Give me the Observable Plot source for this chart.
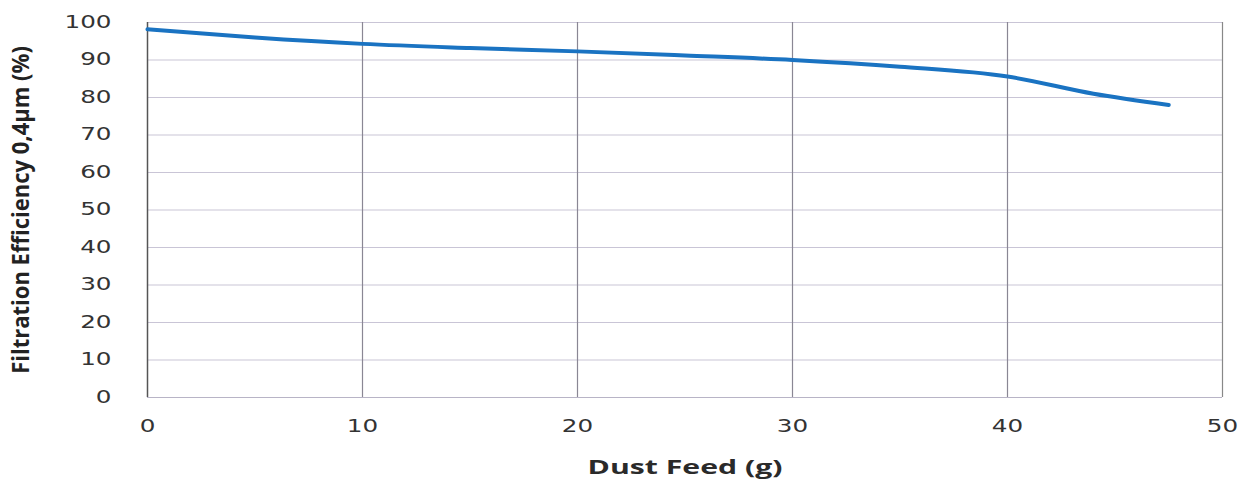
<!DOCTYPE html>
<html>
<head>
<meta charset="utf-8">
<script src="https://cdn.jsdelivr.net/npm/d3@7"></script>
<script src="https://cdn.jsdelivr.net/npm/@observablehq/plot@0.6"></script>
<style>
  html, body { margin: 0; padding: 0; background: #fff; }
  #chart svg { display: block; }
  g[aria-label="y-axis tick label"] text, g[aria-label="x-axis tick label"] text {
    font-family: "DejaVu Sans", sans-serif; font-size: 17px; fill: #333;
  }
  g[aria-label="y-axis label"] text {
    font-family: "Open Sans", sans-serif; font-weight: bold; font-size: 24px; fill: #222;
  }
  g[aria-label="x-axis label"] text {
    font-family: "Open Sans", sans-serif; font-weight: bold; font-size: 20px; fill: #2a2a2a;
  }
</style>
</head>
<body>
<div id="chart"></div>
<script>
const dustFeed = [0, 5, 10, 15, 20, 25, 30, 35, 40, 44, 47.5];
const efficiency = [98.2, 96.0, 94.3, 93.2, 92.3, 91.2, 90.0, 88.2, 85.6, 81.0, 78.0];
const xTicks = [0, 10, 20, 30, 40, 50];
const yTicks = [0, 10, 20, 30, 40, 50, 60, 70, 80, 90, 100];

const data = dustFeed.map((x, i) => ({x, y: efficiency[i]}));

const chart = Plot.plot({
  width: 1246,
  height: 479,
  marginLeft: 147,
  marginRight: 24,
  marginTop: 22,
  marginBottom: 82,
  style: {background: "#fff"},
  x: {domain: [0, 50], ticks: xTicks, tickSize: 0, tickPadding: 22, label: "Dust Feed (g)", labelAnchor: "center", labelArrow: "none", labelOffset: 76},
  y: {domain: [0, 100], ticks: yTicks, tickSize: 0, tickPadding: 36, label: "Filtration Efficiency 0,4µm (%)", labelAnchor: "center", labelArrow: "none", labelOffset: 136},
  marks: [
    Plot.gridY(yTicks, {stroke: "#c9c5d6", strokeOpacity: 1, strokeWidth: 1.2}),
    Plot.gridX(xTicks.filter(d => d > 0 && d < 50), {stroke: "#8a8794", strokeOpacity: 1, strokeWidth: 1.2}),
    Plot.ruleX([0], {stroke: "#555", strokeWidth: 1.5}),
    Plot.ruleX([50], {stroke: "#888", strokeWidth: 1.2}),
    Plot.ruleY([0], {stroke: "#b8b4c6", strokeWidth: 1.2}),
    Plot.line(data, {x: "x", y: "y", stroke: "#1a73c2", strokeWidth: 4, curve: "monotone-x"})
  ]
});
document.getElementById("chart").appendChild(chart);

// stretch / condense text horizontally along its own direction
function scaleText(el, sx) {
  let t = el.getAttribute("transform");
  if (!t) {
    const x = el.getAttribute("x") || 0, y = el.getAttribute("y") || 0;
    el.removeAttribute("x"); el.removeAttribute("y");
    t = `translate(${x},${y})`;
  }
  el.setAttribute("transform", `${t} scale(${sx},1)`);
}
function fitText(el, target) {
  const len = el.getComputedTextLength();
  if (len > 0) scaleText(el, target / len);
}
chart.querySelectorAll('g[aria-label="y-axis tick label"] text, g[aria-label="x-axis tick label"] text')
  .forEach(el => scaleText(el, 1.45));
const yl = chart.querySelector('g[aria-label="y-axis label"] text');
if (yl) fitText(yl, 328);
const xl = chart.querySelector('g[aria-label="x-axis label"] text');
if (xl) fitText(xl, 195);
</script>
</body>
</html>
